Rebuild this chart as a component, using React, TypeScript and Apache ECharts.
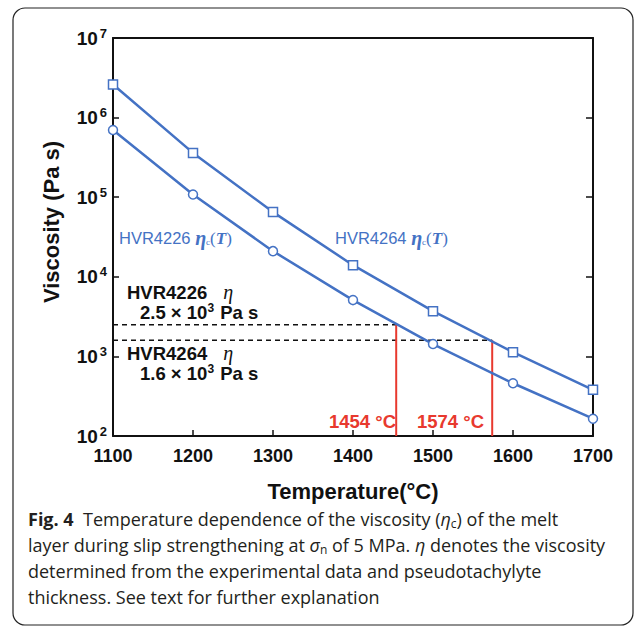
import React, { useEffect, useRef } from "react";
import * as echarts from "echarts";

const temperatures = [1100, 1200, 1300, 1400, 1500, 1600, 1700];
const hvr4264Visc = [2.6e6, 3.6e5, 6.5e4, 1.4e4, 3.7e3, 1.13e3, 3.8e2];
const hvr4226Visc = [7.0e5, 1.08e5, 2.1e4, 5.1e3, 1.43e3, 4.6e2, 1.65e2];
const etaLevels = [2.5e3, 1.6e3];
const crossTemps = [1454, 1574];
const xTicks = [1100, 1200, 1300, 1400, 1500, 1600, 1700];

const BLUE = "#4472c4";
const RED = "#e8392e";
const SANS = "Liberation Sans, Arial, sans-serif";
const SERIF = "Liberation Serif, DejaVu Serif, serif";
const CAP = "Open Sans, sans-serif";

export default function App() {
  const ref = useRef<HTMLDivElement>(null);
  useEffect(() => {
    if (!ref.current) return;
    const chart = echarts.init(ref.current, null, { renderer: "svg" });
    const pair = (arr: number[]) => temperatures.map((t, i) => [t, arr[i]]);
    const supRich = {
      b: { fontFamily: SANS, fontWeight: "bold", fontSize: 19, color: "#111" },
      s: { fontFamily: SANS, fontWeight: "bold", fontSize: 13, color: "#111", padding: [0, 0, 10, 2] },
    };
    const blueRich = {
      a: { fontFamily: SANS, fontSize: 16.5, fill: BLUE },
      e: { fontFamily: SERIF, fontSize: 20, fontStyle: "italic", fontWeight: "bold", fill: BLUE },
      c: { fontFamily: SERIF, fontSize: 9, fill: BLUE, padding: [7, 0, 0, 0] },
      p: { fontFamily: SERIF, fontSize: 17, fill: BLUE },
      t: { fontFamily: SERIF, fontSize: 17, fontStyle: "italic", fontWeight: "bold", fill: BLUE },
    };
    const blackRich = {
      a: { fontFamily: SANS, fontSize: 18.5, fontWeight: "bold", fill: "#111", lineHeight: 20 },
      e: { fontFamily: SERIF, fontSize: 20, fontStyle: "italic", fill: "#111", lineHeight: 20 },
      s: { fontFamily: SANS, fontSize: 12, fontWeight: "bold", fill: "#111", padding: [0, 1, 8, 0] },
      g: { width: 13 },
      h: { width: 16 },
    };
    const option: any = {
      animation: false,
      grid: { left: 113, top: 38, width: 480, height: 398, containLabel: false },
      xAxis: [
        {
          type: "value",
          min: 1100,
          max: 1700,
          interval: 100,
          axisLine: { lineStyle: { color: "#111", width: 2 } },
          axisTick: { inside: true, length: 6, lineStyle: { color: "#111", width: 1.5 } },
          splitLine: { show: false },
          axisLabel: {
            margin: 11,
            fontFamily: SANS,
            fontWeight: "bold",
            fontSize: 18,
            color: "#111",
            formatter: (v: number) => (xTicks.includes(v) ? String(v) : ""),
          },
          name: "Temperature(°C)",
          nameLocation: "middle",
          nameGap: 44,
          nameTextStyle: { fontFamily: SANS, fontWeight: "bold", fontSize: 22, color: "#111" },
        },
        {
          type: "value",
          position: "top",
          min: 1100,
          max: 1700,
          interval: 100,
          axisLine: { show: true, lineStyle: { color: "#111", width: 2 } },
          axisTick: { show: false },
          axisLabel: { show: false },
          splitLine: { show: false },
        },
      ],
      yAxis: [
        {
          type: "log",
          logBase: 10,
          min: 100,
          max: 1e7,
          axisLine: { show: true, lineStyle: { color: "#111", width: 2 } },
          axisTick: { show: true, inside: true, length: 6, lineStyle: { color: "#111", width: 1.5 } },
          splitLine: { show: false },
          minorTick: { show: false },
          axisLabel: {
            margin: 6,
            formatter: (v: number) => `{b|10}{s|${Math.round(Math.log10(v))}}`,
            rich: supRich,
          },
        },
        {
          type: "log",
          logBase: 10,
          min: 100,
          max: 1e7,
          position: "right",
          axisLine: { show: true, lineStyle: { color: "#111", width: 2 } },
          axisTick: { show: true, inside: true, length: 7, lineStyle: { color: "#111", width: 1.5 } },
          axisLabel: { show: false },
          splitLine: { show: false },
        },
      ],
      series: [
        {
          type: "line",
          name: "HVR4264",
          data: pair(hvr4264Visc),
          symbol: "rect",
          symbolSize: 9,
          showAllSymbol: true,
          lineStyle: { color: BLUE, width: 2.5 },
          itemStyle: { color: "#fff", borderColor: BLUE, borderWidth: 1.5 },
          z: 5,
        },
        {
          type: "line",
          name: "HVR4226",
          data: pair(hvr4226Visc),
          symbol: "circle",
          symbolSize: 9,
          lineStyle: { color: BLUE, width: 2.5 },
          itemStyle: { color: "#fff", borderColor: BLUE, borderWidth: 1.5 },
          z: 5,
        },
        ...etaLevels.map((lv, i) => ({
          type: "line",
          data: [
            [1100, lv],
            [crossTemps[i], lv],
          ],
          symbol: "none",
          lineStyle: { color: "#111", width: 1.5, type: [5, 4] },
          z: 3,
        })),
        ...etaLevels.map((lv, i) => ({
          type: "line",
          data: [
            [crossTemps[i], lv],
            [crossTemps[i], 100],
          ],
          symbol: "none",
          lineStyle: { color: RED, width: 2 },
          z: 3,
        })),
      ],
      graphic: [
        {
          type: "rect",
          shape: { x: 13, y: 8, width: 620, height: 617, r: 12 },
          style: { fill: "none", stroke: "#222", lineWidth: 1.2 },
          silent: true,
        },
        {
          type: "text",
          x: 51,
          y: 222,
          rotation: Math.PI / 2,
          style: {
            text: "Viscosity (Pa s)",
            fontFamily: SANS,
            fontWeight: "bold",
            fontSize: 22,
            fill: "#111",
            align: "center",
            verticalAlign: "middle",
          },
        },
        {
          type: "text",
          left: 119,
          top: 228,
          style: { text: "{a|HVR4226 }{e|η}{c|c}{p|(}{t|T}{p|)}", rich: blueRich },
        },
        {
          type: "text",
          left: 335,
          top: 228,
          style: { text: "{a|HVR4264 }{e|η}{c|c}{p|(}{t|T}{p|)}", rich: blueRich },
        },
        {
          type: "text",
          left: 127,
          top: 282,
          style: { text: "{a|HVR4226}{h|}{e|η}\n{g|}{a|2.5 × 10}{s|3}{a| Pa s}", rich: blackRich },
        },
        {
          type: "text",
          left: 127,
          top: 343,
          style: { text: "{a|HVR4264}{h|}{e|η}\n{g|}{a|1.6 × 10}{s|3}{a| Pa s}", rich: blackRich },
        },
        {
          type: "text",
          right: 635 - 396,
          top: 412,
          style: { text: "1454 °C", fontFamily: SANS, fontSize: 18.5, fontWeight: "bold", fill: RED },
        },
        {
          type: "text",
          right: 635 - 484,
          top: 412,
          style: { text: "1574 °C", fontFamily: SANS, fontSize: 18.5, fontWeight: "bold", fill: RED },
        },
        {
          type: "text",
          left: 28,
          top: 510,
          style: {
            text:
              "{b|Fig. 4}{t|  Temperature dependence of the viscosity (}{i|η}{sub|c}{t|) of the melt}\n" +
              "{t|layer during slip strengthening at }{i|σ}{sub|n}{t| of 5 MPa. }{i|η}{t| denotes the viscosity}\n" +
              "{t|determined from the experimental data and pseudotachylyte}\n" +
              "{t|thickness. See text for further explanation}",
            rich: {
              b: { fontFamily: CAP, fontWeight: "bold", fontSize: 18, fill: "#231f20", lineHeight: 26 },
              t: { fontFamily: CAP, fontSize: 18, fill: "#231f20", lineHeight: 26 },
              i: { fontFamily: CAP, fontStyle: "italic", fontSize: 18, fill: "#231f20", lineHeight: 26 },
              sub: { fontFamily: CAP, fontSize: 12, fill: "#231f20", padding: [9, 0, 0, 0] },
            },
          },
        },
      ],
    };
    chart.setOption(option);
    return () => chart.dispose();
  }, []);
  return <div ref={ref} style={{ width: 635, height: 628, position: "absolute", left: 0, top: 0 }} />;
}
